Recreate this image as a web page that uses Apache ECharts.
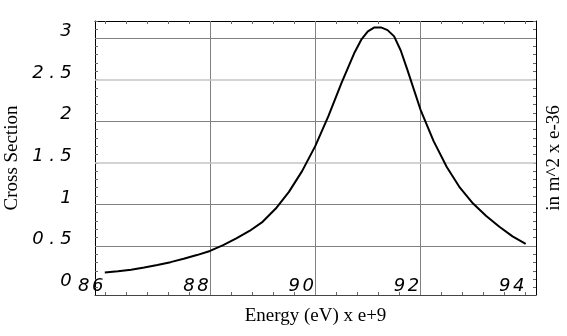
<!DOCTYPE html>
<html>
<head>
<meta charset="utf-8">
<script src="https://cdn.jsdelivr.net/npm/echarts@6/dist/echarts.min.js"></script>
<style>html,body{margin:0;padding:0;background:#fff;}#c{width:567px;height:336px;}</style>
</head>
<body>
<div id="c"></div>
<script>
// Data
var energy = [86.0, 86.25, 86.5, 86.75, 87.0, 87.25, 87.5, 87.75, 88.0, 88.25, 88.5, 88.75, 89.0, 89.25, 89.5, 89.75, 90.0, 90.25, 90.5, 90.75, 90.875, 91.0, 91.125, 91.25, 91.375, 91.5, 91.625, 91.75, 92.0, 92.25, 92.5, 92.75, 93.0, 93.25, 93.5, 93.75, 94.0];
var crossSection = [0.18, 0.195, 0.215, 0.24, 0.27, 0.305, 0.345, 0.39, 0.44, 0.51, 0.59, 0.68, 0.79, 0.95, 1.15, 1.40, 1.70, 2.06, 2.46, 2.83, 2.98, 3.08, 3.128, 3.128, 3.095, 3.02, 2.85, 2.62, 2.14, 1.76, 1.45, 1.20, 1.01, 0.86, 0.73, 0.615, 0.525];
var xLabels = [86, 88, 90, 92, 94];
var yLabels = [0, 0.5, 1, 1.5, 2, 2.5, 3];
var xGrid = [88, 90, 92];
var yGridDark = [0.5, 1, 2, 3];
var yGridLight = [1.5, 2.5];

var xTicks = [], yTicks = [];
for (var i = 0; i <= 20; i++) xTicks.push(+(86 + 0.4 * i).toFixed(1));
for (var j = 0; j <= 32; j++) yTicks.push(+(0.1 * j).toFixed(1));

var pts = energy.map(function (e, k) { return [e, crossSection[k]]; });

function mono(v) {
  return String(v).split('').map(function (ch) { return '{c|' + ch + '}'; }).join('');
}
var numFont = { width: 14, align: 'center', fontFamily: 'DejaVu Sans', fontStyle: 'oblique', fontSize: 18, color: '#000' };

var markData = [];
xGrid.forEach(function (v) { markData.push({ xAxis: v, lineStyle: { color: '#808080', width: 1, type: 'solid' } }); });
yGridDark.forEach(function (v) { markData.push({ yAxis: v, lineStyle: { color: '#808080', width: 1, type: 'solid' } }); });
yGridLight.forEach(function (v) { markData.push({ yAxis: v, lineStyle: { color: '#c4c4c4', width: 1.5, type: 'solid' } }); });

var chart = echarts.init(document.getElementById('c'), null, { renderer: 'canvas' });
var xMin = 85.814, xMax = 94.196, yMin = -0.09, yMax = 3.205;
var titleFont = { fontFamily: 'Liberation Serif', fontSize: 19, color: '#000' };

chart.setOption({
  animation: false,
  backgroundColor: '#fff',
  grid: { left: 95, top: 21, right: 31, bottom: 41, containLabel: false, outerBoundsMode: 'none' },
  xAxis: [{
    type: 'value', position: 'bottom', min: xMin, max: xMax,
    name: 'Energy (eV) x e+9', nameLocation: 'middle', nameGap: 12, nameTextStyle: titleFont,
    axisLine: { show: true, onZero: false, lineStyle: { color: '#444', width: 1 } },
    axisTick: { show: true, inside: true, length: 3, customValues: xTicks, lineStyle: { color: '#666' } },
    axisLabel: { show: true, inside: true, customValues: xLabels, margin: 0, align: 'right', verticalAlign: 'bottom',
      formatter: mono, rich: { c: numFont } },
    splitLine: { show: false }
  }, {
    type: 'value', position: 'top', min: xMin, max: xMax,
    axisLine: { show: true, onZero: false, lineStyle: { color: '#000', width: 1 } },
    axisTick: { show: true, inside: true, length: 3, customValues: xTicks, lineStyle: { color: '#666' } },
    axisLabel: { show: false },
    splitLine: { show: false }
  }],
  yAxis: [{
    type: 'value', position: 'left', min: yMin, max: yMax,
    name: 'Cross Section', nameLocation: 'middle', nameGap: 72, nameTextStyle: titleFont,
    axisLine: { show: true, onZero: false, lineStyle: { color: '#000', width: 1 } },
    axisTick: { show: true, inside: true, length: 3, customValues: yTicks, lineStyle: { color: '#666' } },
    axisLabel: { show: true, customValues: yLabels, margin: 22, align: 'right', verticalAlign: 'middle',
      padding: [0, 0, 13, 0], formatter: mono, rich: { c: numFont } },
    splitLine: { show: false }
  }, {
    type: 'value', position: 'right', min: yMin, max: yMax,
    name: 'in m^2 x e-36', nameLocation: 'middle', nameRotate: 90, nameGap: 9, nameTextStyle: titleFont,
    axisLine: { show: true, onZero: false, lineStyle: { color: '#000', width: 1 } },
    axisTick: { show: true, inside: true, length: 3, customValues: yTicks, lineStyle: { color: '#666' } },
    axisLabel: { show: false },
    splitLine: { show: false }
  }],
  series: [{
    type: 'line', xAxisIndex: 0, yAxisIndex: 0, data: pts,
    smooth: false, showSymbol: false, symbol: 'none',
    lineStyle: { color: '#000', width: 2, join: 'round' }, z: 5,
    markLine: { silent: true, symbol: 'none', label: { show: false }, animation: false, data: markData, z: 1 }
  }]
});
</script>
</body>
</html>
